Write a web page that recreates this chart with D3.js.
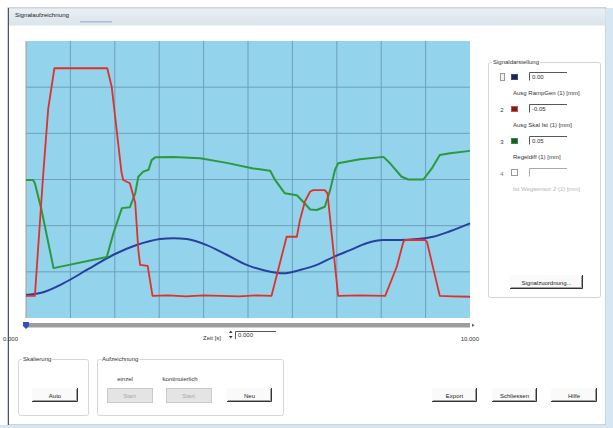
<!DOCTYPE html>
<html>
<head>
<meta charset="utf-8">
<script src="https://cdn.jsdelivr.net/npm/d3@7/dist/d3.min.js"></script>
<style>
  html, body { margin: 0; padding: 0; background: #ffffff; }
  svg { display: block; font-family: "Liberation Sans", "DejaVu Sans", sans-serif; }
</style>
</head>
<body>
<svg id="win" width="613" height="428"></svg>
<script>
// Recorded signals: time in s, value in grid divisions
const rampGen = [
  [0, 0.50], [0.32, 0.54], [0.84, 0.75], [1.37, 1.04], [1.97, 1.37], [2.49, 1.58],
  [3.02, 1.71], [3.32, 1.73], [3.62, 1.71], [4.07, 1.58], [4.52, 1.37], [4.97, 1.15],
  [5.42, 1.02], [5.80, 0.97], [6.17, 1.04], [6.55, 1.15], [6.92, 1.32], [7.30, 1.47],
  [7.67, 1.62], [8.05, 1.69], [8.42, 1.69], [8.80, 1.71], [9.17, 1.76], [9.55, 1.88],
  [10, 2.05]
];
const skalIst = [
  [0, 0.48], [0.20, 0.48], [0.38, 3.01], [0.50, 4.53], [0.64, 5.41], [1.83, 5.41],
  [1.93, 5.01], [2.15, 3.16], [2.19, 2.99], [2.34, 2.92], [2.46, 2.49], [2.53, 1.47],
  [2.57, 1.15], [2.74, 1.13], [2.85, 0.48], [3.2, 0.49], [3.6, 0.47], [4.0, 0.49],
  [4.4, 0.48], [4.8, 0.47], [5.2, 0.49], [5.53, 0.48], [5.87, 1.76], [6.10, 1.76],
  [6.17, 2.12], [6.28, 2.52], [6.40, 2.74], [6.47, 2.77], [6.73, 2.77], [6.79, 2.70],
  [7.03, 0.48], [7.5, 0.49], [8.09, 0.48], [8.35, 1.11], [8.50, 1.65], [8.54, 1.69],
  [8.99, 1.69], [9.03, 1.65], [9.32, 0.48], [9.6, 0.47], [10, 0.46]
];
const regeldiff = [
  [0, 2.99], [0.16, 2.99], [0.20, 2.92], [0.35, 2.34], [0.62, 1.08], [1.82, 1.32],
  [1.97, 1.84], [2.16, 2.38], [2.34, 2.40], [2.46, 2.70], [2.53, 3.06], [2.64, 3.17],
  [2.76, 3.21], [2.83, 3.42], [2.91, 3.48], [3.32, 3.49], [3.92, 3.46], [4.52, 3.36],
  [5.12, 3.24], [5.50, 3.19], [5.61, 2.99], [5.83, 2.70], [6.10, 2.66], [6.28, 2.48],
  [6.40, 2.35], [6.55, 2.34], [6.73, 2.41], [6.85, 2.77], [6.96, 3.21], [7.03, 3.35],
  [7.52, 3.44], [8.05, 3.49], [8.20, 3.35], [8.46, 3.06], [8.61, 3.00], [8.95, 3.00],
  [9.14, 3.24], [9.32, 3.53], [9.55, 3.57], [10, 3.62]
];
const seriesColors = ["#27409e", "#e0302b", "#2a9a3c"];
const timeTicks = ["0.000", "10.000"];
const channelNumbers = ["", "2", "3", "4"];
const channelOffsets = ["0.00", "-0.05", "0.05", ""];
const channelNames = ["Ausg RampGen (1) [mm]", "Ausg Skal Ist (1) [mm]", "Regeldiff (1) [mm]", "Ist Wegsensor 2 (1) [mm]"];
const swatchColors = ["#1c2452", "#7a1c1c", "#1d5a2a", null];

const svg = d3.select("#win");
const FS = 6;

// ---- window frame ----
const grad = svg.append("defs").append("linearGradient").attr("id", "titleGrad")
  .attr("x1", 0).attr("x2", 0).attr("y1", 0).attr("y2", 1);
grad.append("stop").attr("offset", "0%").attr("stop-color", "#e9eff5");
grad.append("stop").attr("offset", "100%").attr("stop-color", "#dbe4ec");

svg.append("rect").attr("x", 8).attr("y", 8).attr("width", 598).attr("height", 417)
  .attr("fill", "#ffffff").attr("stroke", "#9aa6b2").attr("stroke-width", 1);
svg.append("rect").attr("x", 8.5).attr("y", 8.5).attr("width", 597).attr("height", 17)
  .attr("fill", "url(#titleGrad)");
svg.append("rect").attr("x", 80).attr("y", 21).attr("width", 32).attr("height", 1.5)
  .attr("fill", "#8aa0c0").attr("opacity", 0.6);
svg.append("text").attr("x", 15).attr("y", 17).attr("font-size", 6.2).attr("fill", "#222")
  .text("Signalaufzeichnung");
svg.append("line").attr("x1", 8.5).attr("x2", 8.5).attr("y1", 8).attr("y2", 425)
  .attr("stroke", "#4a5560").attr("stroke-width", 1);
svg.append("rect").attr("x", 606).attr("y", 8).attr("width", 7).attr("height", 420)
  .attr("fill", "#d6e6f2");
svg.append("rect").attr("x", 0).attr("y", 425).attr("width", 613).attr("height", 3)
  .attr("fill", "#d6e6f2");

// ---- plot ----
const x = d3.scaleLinear().domain([0, 10]).range([26, 470]);
const y = d3.scaleLinear().domain([0, 6]).range([318, 41]);

svg.append("rect").attr("x", x(0)).attr("y", y(6)).attr("width", x(10) - x(0)).attr("height", y(0) - y(6))
  .attr("fill", "#93d3ec");

const grid = svg.append("g");
grid.selectAll(".vx").data(x.ticks(10).slice(1, -1)).join("line")
  .attr("x1", d => x(d)).attr("x2", d => x(d)).attr("y1", y(6)).attr("y2", y(0))
  .attr("stroke", "#6f9fbd").attr("stroke-width", 1);
grid.selectAll(".hy").data(y.ticks(6).slice(1, -1)).join("line")
  .attr("x1", x(0)).attr("x2", x(10)).attr("y1", d => y(d)).attr("y2", d => y(d))
  .attr("stroke", "#6f9fbd").attr("stroke-width", 1);
svg.append("line").attr("x1", x(0)).attr("x2", x(0)).attr("y1", y(6)).attr("y2", y(0))
  .attr("stroke", "#b09a86").attr("stroke-width", 1);

const linePlain = d3.line().x(d => x(d[0])).y(d => y(d[1]));
const lineSmooth = d3.line().x(d => x(d[0])).y(d => y(d[1])).curve(d3.curveMonotoneX);

svg.append("path").datum(rampGen).attr("d", lineSmooth).attr("fill", "none")
  .attr("stroke", seriesColors[0]).attr("stroke-width", 2);
svg.append("path").datum(regeldiff).attr("d", linePlain).attr("fill", "none")
  .attr("stroke", seriesColors[2]).attr("stroke-width", 2).attr("stroke-linejoin", "round");
svg.append("path").datum(skalIst).attr("d", linePlain).attr("fill", "none")
  .attr("stroke", seriesColors[1]).attr("stroke-width", 1.8).attr("stroke-linejoin", "round");

// ---- time slider ----
svg.append("rect").attr("x", x(0)).attr("y", 323).attr("width", x(10) - x(0)).attr("height", 4.5)
  .attr("fill", "#9b9d9f");
svg.append("path").attr("d", `M${x(0) - 3},322 h6 v4 l-3,3 l-3,-3 z`).attr("fill", "#2c55b8");
svg.append("path").attr("d", `M${x(10) + 2},323.5 l2.5,1.8 l-2.5,1.8 z`).attr("fill", "#666");
svg.append("text").attr("x", 3).attr("y", 341).attr("font-size", FS).attr("fill", "#333").text(timeTicks[0]);
svg.append("text").attr("x", 479).attr("y", 341).attr("font-size", FS).attr("fill", "#333")
  .attr("text-anchor", "end").text(timeTicks[1]);
svg.append("text").attr("x", 203).attr("y", 340).attr("font-size", FS).attr("fill", "#333").text("Zeit [s]");
svg.append("path").attr("d", "M229,333 l1.8,-2.5 l1.8,2.5 z M229,336 l1.8,2.5 l1.8,-2.5 z").attr("fill", "#333");
function textbox(x0, y0, w, h, txt, color) {
  svg.append("rect").attr("x", x0).attr("y", y0).attr("width", w).attr("height", h).attr("fill", "#fff");
  svg.append("path").attr("d", `M${x0 + 0.5},${y0 + h} V${y0 + 0.5} H${x0 + w}`)
    .attr("fill", "none").attr("stroke", color || "#555").attr("stroke-width", 1);
  if (txt) svg.append("text").attr("x", x0 + 3).attr("y", y0 + h - 2).attr("font-size", FS).attr("fill", "#333").text(txt);
}
textbox(235, 331, 41, 8, "0.000");

// ---- group boxes ----
function groupBox(x0, y0, w, h, label) {
  svg.append("rect").attr("x", x0 + 0.5).attr("y", y0 + 0.5).attr("width", w).attr("height", h)
    .attr("rx", 2).attr("fill", "none").attr("stroke", "#d3d6da").attr("stroke-width", 1);
  const t = svg.append("text").attr("x", x0 + 5).attr("y", y0 + 2).attr("font-size", FS).attr("fill", "#333").text(label);
  const bb = t.node().getBBox();
  svg.insert("rect", () => t.node()).attr("x", bb.x - 1).attr("y", y0 - 1).attr("width", bb.width + 2).attr("height", 3).attr("fill", "#fff");
}
groupBox(18, 359, 70, 56, "Skalierung");
groupBox(97, 359, 186, 56, "Aufzeichnung");
groupBox(488, 62, 112, 235, "Signaldarstellung");

// ---- buttons ----
function button(x0, y0, w, label, disabled) {
  const h = 14;
  if (disabled) {
    svg.append("rect").attr("x", x0 + 0.5).attr("y", y0 + 0.5).attr("width", w).attr("height", h)
      .attr("fill", "#e4e4e4").attr("stroke", "#c9c9c9");
  } else {
    svg.append("rect").attr("x", x0).attr("y", y0).attr("width", w).attr("height", h).attr("fill", "#fafafa");
    svg.append("path").attr("d", `M${x0},${y0 + h - 0.5} H${x0 + w - 0.5} V${y0}`)
      .attr("fill", "none").attr("stroke", "#333").attr("stroke-width", 1);
    svg.append("path").attr("d", `M${x0 + 1},${y0 + h - 1.5} H${x0 + w - 1.5} V${y0 + 1}`)
      .attr("fill", "none").attr("stroke", "#a0a0a0").attr("stroke-width", 1);
  }
  svg.append("text").attr("x", x0 + w / 2).attr("y", y0 + 9.5).attr("text-anchor", "middle")
    .attr("font-size", FS).attr("fill", disabled ? "#a8a8a8" : "#222").text(label);
}
button(32, 388, 46, "Auto");
svg.append("text").attr("x", 125).attr("y", 381).attr("font-size", FS).attr("fill", "#333").attr("text-anchor", "middle").text("einzel");
svg.append("text").attr("x", 180).attr("y", 381).attr("font-size", FS).attr("fill", "#333").attr("text-anchor", "middle").text("kontinuierlich");
button(107, 388, 45, "Start", true);
button(166, 388, 45, "Start", true);
button(227, 388, 45, "Neu");
button(432, 388, 45, "Export");
button(492, 388, 45, "Schliessen");
button(551, 388, 46, "Hilfe");

// ---- channel legend ----
const rowY = [73, 105, 137, 169];
channelNames.forEach((name, i) => {
  const ry = rowY[i];
  if (i === 0) {
    svg.append("rect").attr("x", 500.5).attr("y", ry + 0.5).attr("width", 4).attr("height", 7)
      .attr("fill", "#f2f2f2").attr("stroke", "#9a9a9a");
  } else {
    svg.append("text").attr("x", 502).attr("y", ry + 6.5).attr("font-size", FS)
      .attr("fill", i === 3 ? "#777" : "#333").attr("text-anchor", "middle").text(channelNumbers[i]);
  }
  if (swatchColors[i]) {
    svg.append("rect").attr("x", 511.5).attr("y", ry + 1.5).attr("width", 6).attr("height", 5)
      .attr("fill", swatchColors[i]).attr("stroke", i === 1 ? "#c05050" : (i === 2 ? "#3a8a4a" : "#3a4a80"));
  } else {
    svg.append("rect").attr("x", 511.5).attr("y", ry + 0.5).attr("width", 6).attr("height", 6)
      .attr("fill", "#fff").attr("stroke", "#999");
  }
  textbox(529, ry - 1, 38, 8.5, channelOffsets[i], i === 3 ? "#aaa" : "#555");
  svg.append("text").attr("x", 513).attr("y", ry + 21.5).attr("font-size", FS)
    .attr("fill", i === 3 ? "#b5b5b5" : "#333").text(name);
});
button(510, 275, 73, "Signalzuordnung...");
</script>
</body>
</html>
